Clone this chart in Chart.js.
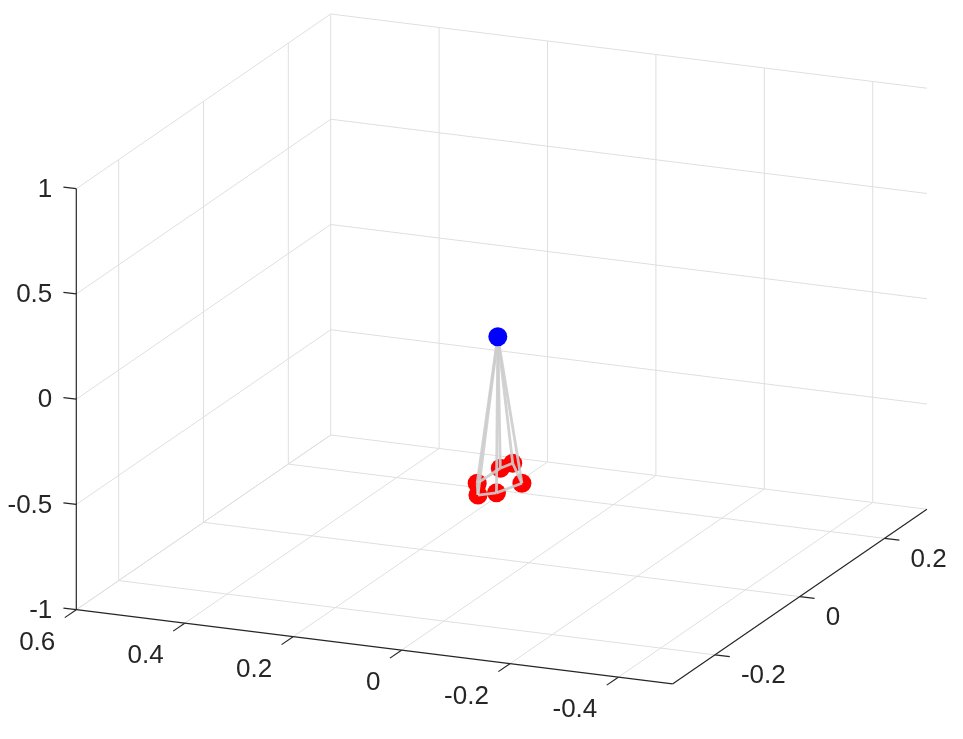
<!DOCTYPE html>
<html><head><meta charset="utf-8">
<script src="https://cdn.jsdelivr.net/npm/chart.js@4/dist/chart.umd.min.js"></script>
<style>html,body{margin:0;padding:0;background:#fff}#wrap{width:963px;height:739px;position:relative}</style>
</head><body><div id="wrap"><canvas id="c"></canvas></div>
<script>
// ---------- data ----------
const xLimits = [-0.5, 0.6];
const yLimits = [-0.3, 0.3];
const zLimits = [-1, 1];
const xTicks = [0.6, 0.4, 0.2, 0, -0.2, -0.4];
const yTicks = [-0.2, 0, 0.2];
const zTicks = [-1, -0.5, 0, 0.5, 1];
const xTickLabels = ['0.6', '0.4', '0.2', '0', '-0.2', '-0.4'];
const yTickLabels = ['-0.2', '0', '0.2'];
const zTickLabels = ['-1', '-0.5', '0', '0.5', '1'];
// blue hub point
const hubX = [0.057];
const hubY = [0.0];
const hubZ = [0.056];
// red nodes (ring order)
const nodeX = [0.070, 0.042, 0.018, 0.000, 0.060, 0.068];
const nodeY = [-0.032, -0.066, -0.053, -0.016, 0.039, 0.020];
const nodeZ = [-0.6, -0.6, -0.6, -0.6, -0.6, -0.6];

// ---------- view (projection of the 3-D box onto the page) ----------
const VIEW = {
  origin: [76.3, 609.7],      // corner (xmax, ymin, zmin)
  ax: [542, 67.5],            // per unit decrease of x
  ay: [424, -291.2],          // per unit increase of y
  az: [0, -210.5]             // per unit increase of z
};
function proj(x, y, z) {
  const u = xLimits[1] - x, v = y - yLimits[0], w = z - zLimits[0];
  return {
    x: VIEW.origin[0] + u * VIEW.ax[0] + v * VIEW.ay[0] + w * VIEW.az[0],
    y: VIEW.origin[1] + u * VIEW.ax[1] + v * VIEW.ay[1] + w * VIEW.az[1]
  };
}
const GRID = '#dfdfdf', AXIS = '#262626';
const datasets = [];
function seg(p, q, color, width, order) {
  datasets.push({ type: 'line', data: [p, q], borderColor: color, borderWidth: width,
    pointRadius: 0, fill: false, clip: false, order: order, tension: 0 });
}
// back wall (y = ymax)
xTicks.forEach(x => seg(proj(x, yLimits[1], zLimits[0]), proj(x, yLimits[1], zLimits[1]), GRID, 1, 90));
zTicks.forEach(z => seg(proj(xLimits[1], yLimits[1], z), proj(xLimits[0], yLimits[1], z), GRID, 1, 90));
// left wall (x = xmax)
yTicks.forEach(y => seg(proj(xLimits[1], y, zLimits[0]), proj(xLimits[1], y, zLimits[1]), GRID, 1, 90));
zTicks.forEach(z => seg(proj(xLimits[1], yLimits[0], z), proj(xLimits[1], yLimits[1], z), GRID, 1, 90));
// floor (z = zmin)
xTicks.forEach(x => seg(proj(x, yLimits[0], zLimits[0]), proj(x, yLimits[1], zLimits[0]), GRID, 1, 90));
yTicks.forEach(y => seg(proj(xLimits[1], y, zLimits[0]), proj(xLimits[0], y, zLimits[0]), GRID, 1, 90));
// axis lines
seg(proj(xLimits[1], yLimits[0], zLimits[0]), proj(xLimits[1], yLimits[0], zLimits[1]), AXIS, 1.2, 80);
seg(proj(xLimits[1], yLimits[0], zLimits[0]), proj(xLimits[0], yLimits[0], zLimits[0]), AXIS, 1.2, 80);
seg(proj(xLimits[0], yLimits[0], zLimits[0]), proj(xLimits[0], yLimits[1], zLimits[0]), AXIS, 1.2, 80);
// tick marks
function unit(v) { const l = Math.hypot(v[0], v[1]); return [v[0] / l, v[1] / l]; }
const dxOut = unit(VIEW.ax), dyOut = unit(VIEW.ay);
function off(p, d, len) { return { x: p.x + d[0] * len, y: p.y + d[1] * len }; }
const zTickPts = zTicks.map(z => proj(xLimits[1], yLimits[0], z));
const xTickPts = xTicks.map(x => proj(x, yLimits[0], zLimits[0]));
const yTickPts = yTicks.map(y => proj(xLimits[0], y, zLimits[0]));
zTickPts.forEach(p => seg(p, off(p, [-dxOut[0], -dxOut[1]], 13), AXIS, 1.2, 80));
xTickPts.forEach(p => seg(p, off(p, [-dyOut[0], -dyOut[1]], 14), AXIS, 1.2, 80));
yTickPts.forEach(p => seg(p, off(p, dxOut, 15), AXIS, 1.2, 80));

// struts: hub to each node, and ring between nodes
const hubP = proj(hubX[0], hubY[0], hubZ[0]);
const nodeP = nodeX.map((x, i) => proj(x, nodeY[i], nodeZ[i]));
const STRUT = 'rgba(205,205,205,0.9)';
nodeP.forEach(p => seg(hubP, p, STRUT, 2.8, 20));
nodeP.forEach((p, i) => seg(p, nodeP[(i + 1) % nodeP.length], STRUT, 2.8, 20));

datasets.push({ type: 'scatter', data: nodeP, backgroundColor: '#ff0000', borderColor: '#ff0000',
  pointRadius: 9.5, borderWidth: 0, clip: false, order: 30 });
datasets.push({ type: 'scatter', data: [hubP], backgroundColor: '#0000ff', borderColor: '#0000ff',
  pointRadius: 9.5, borderWidth: 0, clip: false, order: 10 });

// tick labels
const FONT = '26px "Liberation Sans", Arial, Helvetica, sans-serif';
const tickLabelPlugin = {
  id: 'tickLabels',
  afterDatasetsDraw(chart) {
    const ctx = chart.ctx, sx = chart.scales.x, sy = chart.scales.y;
    ctx.save();
    ctx.font = FONT; ctx.fillStyle = AXIS; ctx.textBaseline = 'middle';
    const px = p => sx.getPixelForValue(p.x), py = p => sy.getPixelForValue(p.y);
    ctx.textAlign = 'right';
    zTickPts.forEach((p, i) => ctx.fillText(zTickLabels[i], px(p) - 24, py(p) + 1));
    xTickPts.forEach((p, i) => ctx.fillText(xTickLabels[i], px(p) - 21, py(p) + 33));
    ctx.textAlign = 'left';
    yTickPts.forEach((p, i) => ctx.fillText(yTickLabels[i], px(p) + 26, py(p) + 21));
    ctx.restore();
  }
};

new Chart(document.getElementById('c'), {
  data: { datasets: datasets },
  options: {
    responsive: true, maintainAspectRatio: false, animation: false,
    layout: { padding: 0, autoPadding: false },
    plugins: { legend: { display: false }, tooltip: { enabled: false } },
    scales: {
      x: { type: 'linear', min: 0, max: 963, display: false },
      y: { type: 'linear', min: 0, max: 739, reverse: true, display: false }
    }
  },
  plugins: [tickLabelPlugin]
});
</script></body></html>
